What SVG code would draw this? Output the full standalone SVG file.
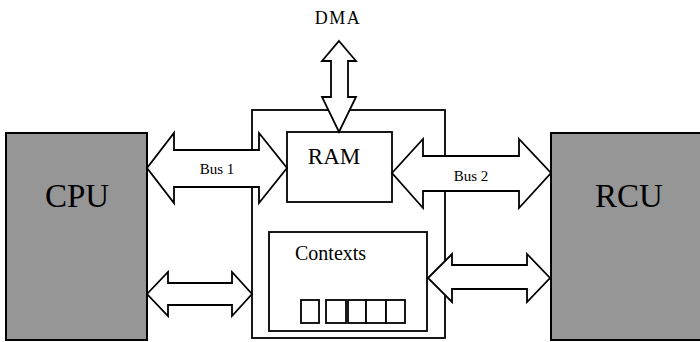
<svg xmlns="http://www.w3.org/2000/svg" width="700" height="342" viewBox="0 0 700 342">
<style>
.unit{fill:#969696;stroke:#000;stroke-width:2}
.box{fill:#fff;stroke:#000;stroke-width:1.8}
.arrow{fill:#fff;stroke:#000;stroke-width:1.8;stroke-linejoin:miter}
text{font-family:"Liberation Serif","Times New Roman",serif;fill:#000}
</style>
<rect width="700" height="342" fill="#fff"/>
<g id="cpu">
<rect class="unit" x="6" y="133" width="141" height="207"/>
<text x="77" y="207" font-size="33" text-anchor="middle">CPU</text>
</g>
<g id="rcu">
<rect class="unit" x="551" y="133" width="152" height="207"/>
<text x="629" y="207" font-size="33" text-anchor="middle">RCU</text>
</g>
<g id="memory">
<rect class="box" x="252" y="110" width="193" height="228"/>
</g>
<g id="ram">
<rect class="box" x="287" y="132" width="105" height="70"/>
<text x="334" y="164" font-size="23" text-anchor="middle">RAM</text>
</g>
<g id="contexts">
<rect class="box" x="269" y="232" width="158" height="99"/>
<text x="295" y="260" font-size="20">Contexts</text>
<rect class="box" x="301" y="300" width="18" height="23"/>
<rect class="box" x="326" y="300" width="20" height="23"/>
<rect class="box" x="348" y="300" width="18" height="23"/>
<rect class="box" x="366" y="300" width="20" height="23"/>
<rect class="box" x="386" y="300" width="19" height="23"/>
</g>
<g id="dma">
<text x="338" y="24" font-size="18" text-anchor="middle" letter-spacing="1.5">DMA</text>
</g>
<g id="connectors">
<path class="arrow" d="M339,41 L356,61 L348,61 L348,97 L356,97 L339,132 L322,97 L331,97 L331,61 L322,61 Z"/>
<path class="arrow" d="M147,168 L174,133 L174,150 L259,150 L259,133 L287,168 L259,203 L259,187 L174,187 L174,203 Z"/>
<path class="arrow" d="M392,173 L423,139 L423,156 L519,156 L519,139 L551,173 L519,208 L519,191 L423,191 L423,208 Z"/>
<path class="arrow" d="M147,294 L168,272 L168,283 L232,283 L232,272 L252,294 L232,316 L232,305 L168,305 L168,316 Z"/>
<path class="arrow" d="M428,278 L452,254 L452,265 L527,265 L527,254 L550,278 L527,302 L527,289 L452,289 L452,302 Z"/>
<text x="217" y="174" font-size="15" text-anchor="middle">Bus 1</text>
<text x="471" y="181" font-size="15" text-anchor="middle">Bus 2</text>
</g>
</svg>
